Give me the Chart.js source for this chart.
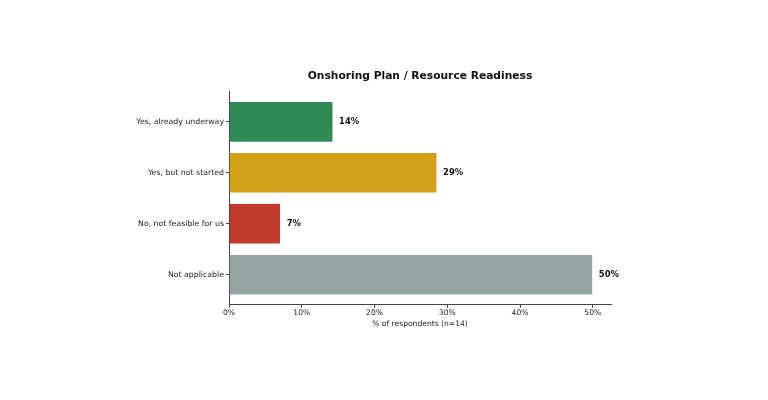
<!DOCTYPE html>
<html>
<head>
<meta charset="utf-8">
<script src="https://cdn.jsdelivr.net/npm/chart.js@4.4.1/dist/chart.umd.min.js"></script>
<style>
html, body { margin: 0; padding: 0; background: #fff; }
</style>
</head>
<body>
<canvas id="readinessChart" width="768" height="400"></canvas>
<script>
// survey answers, top to bottom
var categories = ["Yes, already underway", "Yes, but not started", "No, not feasible for us", "Not applicable"];
var percentValues = [14.3, 28.6, 7.1, 50.0];
var barColors = ["#2e8b57", "#d4a017", "#c0392b", "#95a5a6"];
var xTicks = [0, 10, 20, 30, 40, 50];

Chart.defaults.font.family = "'DejaVu Sans', sans-serif";
Chart.defaults.color = "#222";

// bold % text just right of each bar
var valueLabelPlugin = {
    id: "valueLabels",
    afterDatasetsDraw: function (chart) {
        var ctx = chart.ctx;
        var meta = chart.getDatasetMeta(0);
        ctx.save();
        ctx.font = "bold 8.4px 'DejaVu Sans'";
        ctx.fillStyle = "#111";
        ctx.textBaseline = "middle";
        meta.data.forEach(function (bar, i) {
            ctx.fillText(Math.round(percentValues[i]) + "%", bar.x + 6, bar.y);
        });
        ctx.restore();
    }
};

var axisColor = "#444";

new Chart(document.getElementById("readinessChart"), {
    type: "bar",
    data: {
        datasets: [{
            data: categories.map(function (c, i) { return { x: percentValues[i], y: i }; }),
            backgroundColor: barColors,
            borderColor: "#ffffff",
            borderWidth: 0.6,
            barPercentage: 0.8,
            categoryPercentage: 1.0
        }]
    },
    options: {
        indexAxis: "y",
        responsive: false,
        animation: false,
        layout: { padding: { top: 70, right: 157, bottom: 71, left: 0 } },
        plugins: {
            legend: { display: false },
            tooltip: { enabled: false },
            title: {
                display: true,
                fullSize: false,
                text: "Onshoring Plan / Resource Readiness",
                color: "#111",
                font: { size: 10.7, weight: "bold" },
                padding: { top: 0, bottom: 9 }
            }
        },
        scales: {
            x: {
                type: "linear",
                min: 0,
                max: 52.5,
                afterBuildTicks: function (axis) {
                    axis.ticks = xTicks.map(function (v) { return { value: v }; });
                },
                ticks: {
                    font: { size: 7.6 },
                    padding: 1,
                    callback: function (v) { return v + "%"; }
                },
                grid: { drawOnChartArea: false, tickLength: 3, color: axisColor },
                border: { color: axisColor },
                title: {
                    display: true,
                    text: "% of respondents (n=14)",
                    font: { size: 7.6 },
                    padding: { top: 1, bottom: 0 }
                }
            },
            y: {
                type: "linear",
                min: -0.59,
                max: 3.59,
                reverse: true,
                offset: false,
                afterBuildTicks: function (axis) {
                    axis.ticks = categories.map(function (c, i) { return { value: i }; });
                },
                afterFit: function (axis) { axis.width = 229; },
                ticks: {
                    font: { size: 7.8 },
                    padding: 2,
                    callback: function (v) { return categories[v]; }
                },
                grid: { drawOnChartArea: false, offset: false, tickLength: 3, color: axisColor },
                border: { color: axisColor }
            }
        }
    },
    plugins: [valueLabelPlugin]
});
</script>
</body>
</html>
